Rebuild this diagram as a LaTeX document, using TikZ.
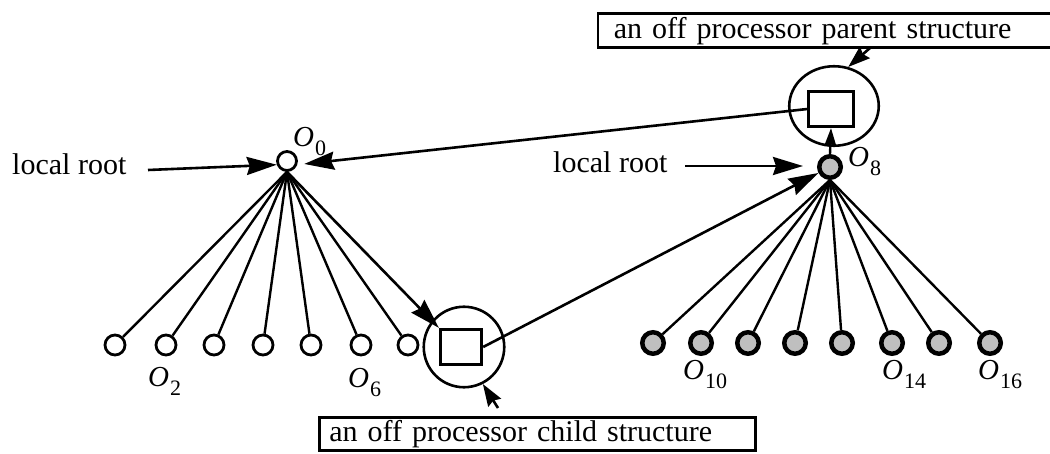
\documentclass[tikz,border=0pt]{standalone}
\usepackage{fontspec}
\setmainfont{Liberation Serif}
\usetikzlibrary{arrows.meta,shapes.geometric}
% object name with a lowered index, e.g. O_2
\newcommand\osub[1]{\textit{O}\kern1pt\raisebox{-9pt}{\fontsize{22}{22}\selectfont #1}}

\begin{document}
\begin{tikzpicture}[x=1pt,y=-1pt,
  every node/.style={inner sep=0pt},
  txt/.style={font=\fontsize{30}{32}\selectfont},
  olab/.style={font=\fontsize{29}{30}\selectfont, anchor=base west},
  conn/.style={line width=2.4pt},
  bigarrow/.style={line width=2.6pt, -{Stealth[length=30pt,width=18pt,inset=3pt]}},
  midarrow/.style={line width=2.6pt, -{Stealth[length=22pt,width=15pt,inset=2.5pt]}},
  smallarrow/.style={line width=2.4pt, -{Stealth[length=18pt,width=12pt,inset=2pt]}},
  wleaf/.style={circle, draw, line width=2.8pt, fill=white, minimum size=20pt},
  gleaf/.style={circle, draw, line width=4.5pt, fill=gray!50, minimum size=21.5pt},
  sq/.style={rectangle, draw, line width=2.8pt, fill=white},
  labelbox/.style={rectangle, draw, line width=2.8pt, txt, align=left, anchor=north west},
]
\useasboundingbox (0,0) rectangle (1050,454);

% ---- left subtree (white objects) ----
\node[wleaf, minimum size=19pt] (rootL) at (287,161) {};
\foreach \i/\x in {1/115,2/166,3/214,4/263,5/311,6/361,7/408}
  \node[wleaf] (l\i) at (\x,345) {};

% off processor child structure
\node[circle, draw, line width=2.6pt, minimum size=80.5pt] (ccirc) at (464,347) {};
\node[sq, minimum width=41.5pt, minimum height=35.5pt] (csq) at (461,347) {};

% ---- right subtree (shaded objects) ----
\node[gleaf, minimum size=21.5pt] (rootR) at (830,167) {};
\foreach \i/\x in {1/653,2/701,3/748,4/795,5/842,6/892,7/939,8/990}
  \node[gleaf] (r\i) at (\x,343) {};

% off processor parent structure
\node[ellipse, draw, line width=2.6pt, minimum width=89.5pt, minimum height=79.5pt] (pcirc) at (834,106) {};
\node[sq, minimum width=44.5pt, minimum height=35.5pt] (psq) at (831,109) {};

% ---- tree edges ----
\foreach \i in {1,...,7}
  \draw[conn] (rootL.south) -- (l\i);
\draw[bigarrow] (rootL.south) -- (csq.north west);
\foreach \i in {1,...,8}
  \draw[conn] (rootR.south) -- (r\i);

% ---- links between the two processors ----
\draw[bigarrow, shorten >=7pt] (psq.west) -- (rootL.-20);
\draw[bigarrow] (csq.east) -- (rootR);
\draw[smallarrow] (rootR.north) -- (psq.south);

% ---- labels ----
\node[txt, anchor=base west] (lrL) at (12,175) {local root};
\coordinate (lrLtail) at (148,170);
\draw[bigarrow] (lrLtail) -- (rootL.200);

\node[txt, anchor=base west] (lrR) at (553,173) {local root};
\coordinate (lrRtail) at (685,166);
\coordinate (lrRtip) at (803,166);
\draw[bigarrow] (lrRtail) -- (lrRtip);

\node[labelbox, text width=440pt, inner xsep=16pt, minimum height=34pt] (pbox) at (596.5,12.5)
  {an off processor parent structure};
\coordinate (ptail) at (870,48);
\draw[midarrow] (ptail) -- (pcirc.70);

\node[labelbox, text width=416pt, inner xsep=10pt, minimum height=33pt] (cbox) at (318,416)
  {an off processor child structure};
\coordinate (ctail) at (498,408);
\draw[midarrow] (ctail) -- (ccirc.-63);

\node[olab] (o0) at (293,147) {\osub{0}};
\node[olab] (o2) at (148,387) {\osub{2}};
\node[olab] (o6) at (348,388) {\osub{6}};
\node[olab] (o8) at (848,167) {\osub{8}};
\node[olab] (o10) at (683,380) {\osub{10}};
\node[olab] (o14) at (882,380) {\osub{14}};
\node[olab] (o16) at (978,380) {\osub{16}};
\end{tikzpicture}
\end{document}
